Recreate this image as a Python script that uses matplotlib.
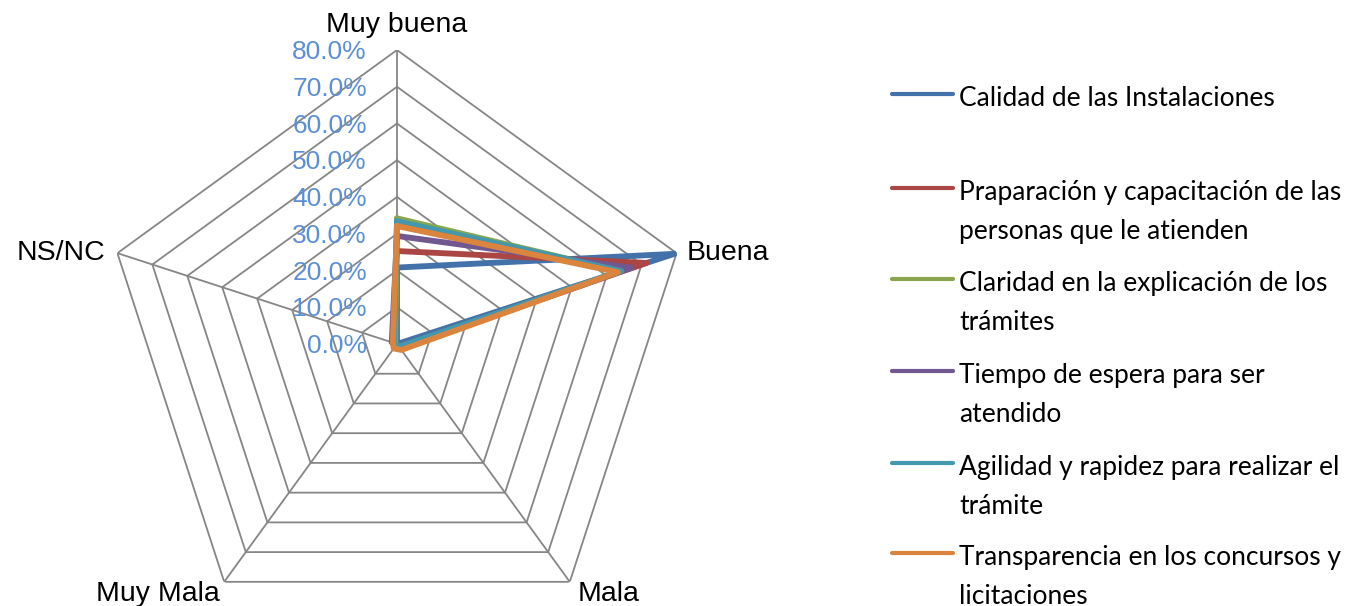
import numpy as np
import matplotlib
matplotlib.use('Agg')
import matplotlib.pyplot as plt
from matplotlib.lines import Line2D

# categories around the radar (clockwise from top)
categories = ['Muy buena', 'Buena', 'Mala', 'Muy Mala', 'NS/NC']

series_names = [
    'Calidad de las Instalaciones',
    'Praparación y capacitación de las\npersonas que le atienden',
    'Claridad en la explicación de los\ntrámites',
    'Tiempo de espera para ser\natendido',
    'Agilidad y rapidez para realizar el\ntrámite',
    'Transparencia en los concursos y\nlicitaciones',
]

# percentages
calidad      = [20.8, 79.4, 0.0, 0.0, 0.0]
preparacion  = [25.3, 71.4, 1.5, 0.5, 1.3]
claridad     = [34.2, 64.0, 1.0, 0.3, 0.5]
tiempo       = [29.4, 67.1, 1.2, 0.8, 1.5]
agilidad     = [33.4, 64.2, 1.0, 0.5, 0.9]
transparencia = [32.1, 63.2, 2.0, 1.5, 1.2]

series_values = [calidad, preparacion, claridad, tiempo, agilidad, transparencia]
colors = ['#4372AA', '#AA4643', '#89A54E', '#71588F', '#4198AF', '#DB843D']

r_ticks = [0, 10, 20, 30, 40, 50, 60, 70, 80]
r_tick_labels = ['%.1f%%' % t for t in r_ticks]

fig = plt.figure(figsize=(13.68, 6.06), dpi=100)
ax = fig.add_axes([0.0753, -0.0528, 0.4298, 0.9703], projection='polar')
ax.set_theta_offset(np.pi / 2)
ax.set_theta_direction(-1)
ax.set_ylim(0, 80)
ax.grid(False)
ax.spines['polar'].set_visible(False)
ax.set_xticks([])
ax.set_yticks([])
ax.patch.set_alpha(0)

n = len(categories)
angles = np.linspace(0, 2 * np.pi, n, endpoint=False)
closed = np.append(angles, angles[0])

# polygon grid and spokes
grid_col = '#868686'
for t in r_ticks[1:]:
    ax.plot(closed, [t] * (n + 1), color=grid_col, lw=1.3, zorder=1)
for a in angles:
    ax.plot([a, a], [0, r_ticks[-1]], color=grid_col, lw=1.3, zorder=1)

# series
for vals, col in zip(series_values, colors):
    ax.plot(closed, vals + vals[:1], color=col, lw=4.2, zorder=3,
            solid_joinstyle='round', solid_capstyle='round')

# radial tick labels
for t, lab in zip(r_ticks, r_tick_labels):
    ax.annotate(lab, xy=(0, t), xytext=(-30, -2), textcoords='offset pixels',
                ha='right', va='center', fontsize=19, color='#5B8FD6',
                family='Liberation Sans', zorder=2, annotation_clip=False)

# category labels
label_pos = [
    ((0, 12), 'center', 'bottom'),
    ((10, 0), 'left', 'center'),
    ((8, -12), 'left', 'center'),
    ((-4, -12), 'right', 'center'),
    ((-12, 0), 'right', 'center'),
]
for a, cat, (off, ha, va) in zip(angles, categories, label_pos):
    ax.annotate(cat, xy=(a, r_ticks[-1]), xytext=off, textcoords='offset pixels',
                ha=ha, va=va, fontsize=20.5, color='black',
                family='Liberation Sans', annotation_clip=False)

# legend drawn to match the original layout (handle on first line)
leg_y = [94, 188, 279, 371, 463, 553]
H, W = 606.0, 1368.0
for y, name, col in zip(leg_y, series_names, colors):
    fy = 1 - y / H
    fig.add_artist(Line2D([892 / W, 953 / W], [fy, fy], color=col, lw=3,
                          solid_capstyle='round', transform=fig.transFigure))
    for i, line in enumerate(name.split('\n')):
        fig.text(959 / W, 1 - (y + 11.5 + 39 * i) / H, line, ha='left',
                 va='baseline', fontsize=19, family='Lato', color='black')

fig.savefig('out.png', dpi=100)
